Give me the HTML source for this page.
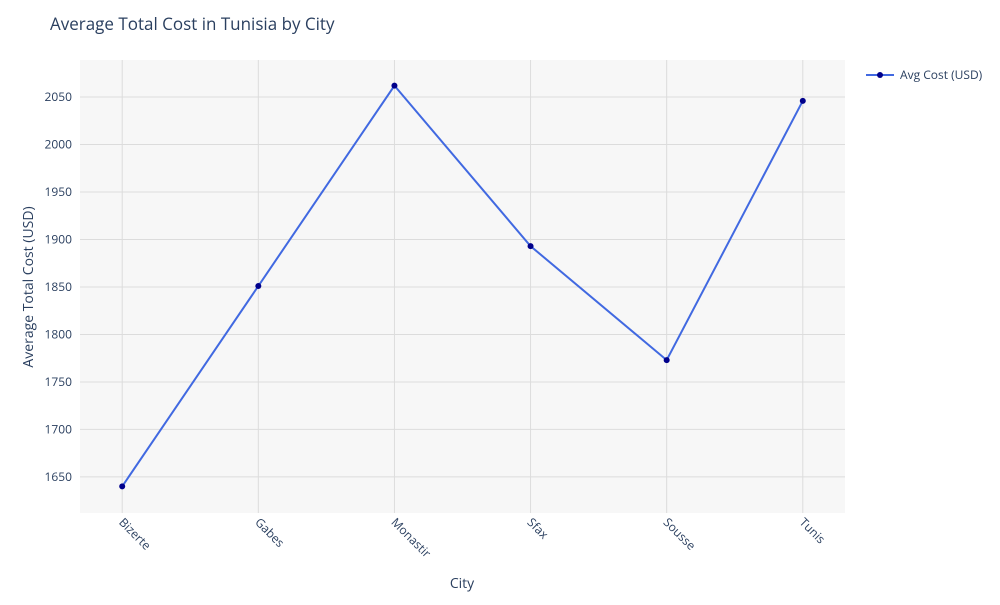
<!DOCTYPE html>
<html><head><meta charset="utf-8"><style>
body{margin:0;background:#fff;font-family:"Open Sans","Liberation Sans",sans-serif;}
svg text{font-family:"Open Sans","Liberation Sans",sans-serif;fill:#2a3f5f;}
</style></head><body>
<svg id="c" width="1000" height="600"></svg>
<script>
const categories=["Bizerte","Gabes","Monastir","Sfax","Sousse","Tunis"];
const avgCost=[1640,1851,2062,1893,1773,2046];
const yTicks=[1650,1700,1750,1800,1850,1900,1950,2000,2050];
const L=80,R=845,T=60,B=513,yMin=1612,yMax=2089;
const xs=i=>L+(i+0.31)/(categories.length-1+0.62)*(R-L);
const ys=v=>B-(v-yMin)/(yMax-yMin)*(B-T);
const s=document.getElementById('c');const NS="http://www.w3.org/2000/svg";
function el(t,a,txt){const e=document.createElementNS(NS,t);for(const k in a)e.setAttribute(k,a[k]);if(txt!=null)e.textContent=txt;s.appendChild(e);return e;}
let e;
e=el('rect',{x:L,y:T,width:R-L,height:B-T,fill:'#f7f7f7'});


yTicks.forEach(v=>{
 e=el('line',{x1:L,x2:R,y1:ys(v),y2:ys(v),stroke:'#dcdcdc','stroke-width':1});
 
 
 e=el('text',{x:L-8,y:ys(v)+4,'text-anchor':'end','font-size':12},v);
 
 
});
categories.forEach((c,i)=>{
 e=el('line',{x1:xs(i),x2:xs(i),y1:T,y2:B,stroke:'#dcdcdc','stroke-width':1});
 
 
 e=el('text',{x:xs(i)-4,y:B+10,'font-size':12,transform:`rotate(45 ${xs(i)-4} ${B+10})`},c);
 
 
});
e=el('polyline',{points:avgCost.map((v,i)=>xs(i)+','+ys(v)).join(' '),fill:'none',stroke:'#4169e1','stroke-width':2});


avgCost.forEach((v,i)=>{
 e=el('circle',{cx:xs(i),cy:ys(v),r:3,fill:'#00008b'});
 
 
});
e=el('text',{x:50,y:30,'font-size':17},'Average Total Cost in Tunisia by City');


e=el('text',{x:462,y:588,'font-size':14,'text-anchor':'middle'},'City');


e=el('text',{x:33,y:287,'font-size':14,'text-anchor':'middle',transform:'rotate(-90 33 287)'},'Average Total Cost (USD)');


e=el('line',{x1:866,x2:894,y1:75,y2:75,stroke:'#4169e1','stroke-width':2});


e=el('circle',{cx:880,cy:75,r:3,fill:'#00008b'});


e=el('text',{x:900,y:79,'font-size':12},'Avg Cost (USD)');


</script>
</body></html>
